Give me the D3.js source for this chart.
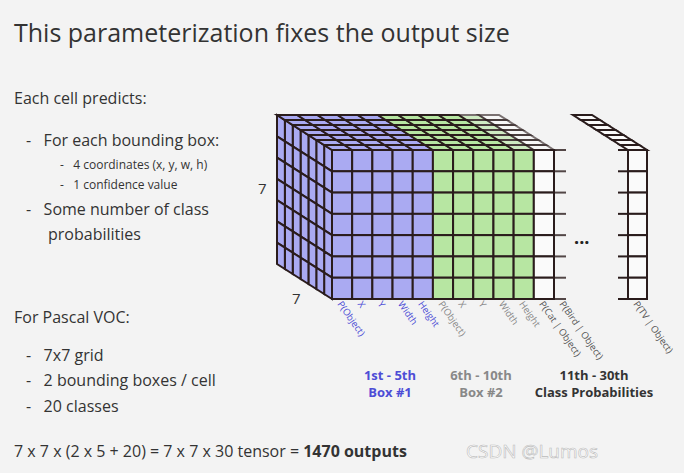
<!DOCTYPE html>
<meta charset="utf-8">
<html>
<head>
<script src="https://d3js.org/d3.v7.min.js"></script>
<style>
  body { margin: 0; background: #f3f3f3; }
  text { font-family: "Open Sans", sans-serif; white-space: pre; }
</style>
</head>
<body>
<svg id="slide" width="684" height="473"></svg>
<script>
// data
const colLabels = ["P(Object)", "X", "Y", "Width", "Height", "P(Object)", "X", "Y", "Width", "Height", "P(Cat | Object)", "P(Bird | Object)"];
const colGroups = [0, 0, 0, 0, 0, 1, 1, 1, 1, 1, 2, 2];
const lastLabel = "P(TV | Object)";
const groupTop = ["1st - 5th", "6th - 10th", "11th - 30th"];
const groupBottom = ["Box #1", "Box #2", "Class Probabilities"];
const fills = ["#aaaaf2", "#b7e6a2", "#fafafa"];
const labelColors = ["#4d4dd6", "#888888", "#333333"];
const bullets = [
  {t: "Each cell predicts:", lvl: 0, y: 104},
  {t: "-   For each bounding box:", lvl: 1, y: 146},
  {t: "-   4 coordinates (x, y, w, h)", lvl: 2, y: 169},
  {t: "-   1 confidence value", lvl: 2, y: 189},
  {t: "-   Some number of class", lvl: 1, y: 215},
  {t: "probabilities", lvl: 3, y: 240},
  {t: "For Pascal VOC:", lvl: 0, y: 323},
  {t: "-   7x7 grid", lvl: 1, y: 361},
  {t: "-   2 bounding boxes / cell", lvl: 1, y: 386},
  {t: "-   20 classes", lvl: 1, y: 412}
];

const svg = d3.select("#slide");
const N = 7;
const x = d3.scaleLinear().domain([0, 11]).range([332, 554]);
const y = d3.scaleLinear().domain([0, N]).range([150, 299]);
const dX = d3.scaleLinear().domain([0, N]).range([0, -55]);
const dY = d3.scaleLinear().domain([0, N]).range([0, -35]);
const P = (cx, r, d) => [cx + dX(d), y(r) + dY(d)];
const poly = pts => "M" + pts.map(p => p.join(",")).join("L") + "Z";
const stroke = "#2a1c1c";

// title + text
svg.append("text").attr("x", 14).attr("y", 42).attr("font-size", 25).attr("fill", "#333")
  .text("This parameterization fixes the output size");
const indent = [14, 26, 60, 48];
svg.selectAll("text.b").data(bullets).enter().append("text").attr("class", "b")
  .attr("x", d => indent[d.lvl]).attr("y", d => d.y)
  .attr("font-size", d => d.lvl === 2 ? 12 : 16).attr("fill", "#333").text(d => d.t);
svg.append("text").attr("x", 14).attr("y", 457).attr("font-size", 16).attr("fill", "#333")
  .html('7 x 7 x (2 x 5 + 20) = 7 x 7 x 30 tensor = <tspan font-weight="bold">1470 outputs</tspan>');

const g = svg.append("g").attr("stroke", stroke).attr("stroke-width", 2);

// left face
for (let d = 0; d < N; d++) for (let r = 0; r < N; r++) {
  g.append("path").attr("fill", fills[0])
    .attr("d", poly([P(x(0), r, d), P(x(0), r, d + 1), P(x(0), r + 1, d + 1), P(x(0), r + 1, d)]));
}
// top face
const nFront = 11;
for (let c = 0; c < nFront; c++) for (let d = 0; d < N; d++) {
  g.append("path").attr("fill", fills[colGroups[c]]).attr("opacity", c > 8 ? 0.6 : 1)
    .attr("d", poly([P(x(c), 0, d), P(x(c + 1), 0, d), P(x(c + 1), 0, d + 1), P(x(c), 0, d + 1)]));
}
// front face
for (let c = 0; c < nFront; c++) for (let r = 0; r < N; r++) {
  g.append("rect").attr("x", x(c)).attr("y", y(r)).attr("width", x(c + 1) - x(c)).attr("height", y(r + 1) - y(r))
    .attr("fill", fills[colGroups[c]]);
}
// stubs after front section
for (let r = 0; r <= N; r++) {
  g.append("line").attr("x1", x(11)).attr("x2", x(11) + 12).attr("y1", y(r)).attr("y2", y(r)).attr("opacity", 0.8);
}
// right block (last class)
const rx0 = 628, rx1 = 647;
for (let d = 0; d < N; d++) {
  g.append("path").attr("fill", "#fafafa")
    .attr("d", poly([P(rx0, 0, d), P(rx1, 0, d), P(rx1, 0, d + 1), P(rx0, 0, d + 1)]));
}
for (let r = 0; r < N; r++) {
  g.append("rect").attr("x", rx0).attr("y", y(r)).attr("width", rx1 - rx0).attr("height", y(r + 1) - y(r)).attr("fill", "#fafafa");
}
for (let r = 0; r <= N; r++) {
  g.append("line").attr("x1", rx0 - 10).attr("x2", rx0).attr("y1", y(r)).attr("y2", y(r));
}
svg.append("text").attr("x", 574).attr("y", 249).attr("font-size", 18).attr("font-weight", "bold").attr("fill", "#222").text("···");

// dimension labels
svg.append("text").attr("x", 258).attr("y", 194).attr("font-size", 15).attr("fill", "#333").text("7");
svg.append("text").attr("x", 292).attr("y", 304).attr("font-size", 15).attr("fill", "#333").text("7");

// column labels
const labs = colLabels.map((t, i) => ({t, g: colGroups[i], x: x(i) + 5}))
  .concat([{t: lastLabel, g: 2, x: rx0 + 5}]);
svg.selectAll("text.cl").data(labs).enter().append("text").attr("class", "cl")
  .attr("transform", d => `translate(${d.x},${304}) rotate(55)`)
  .attr("font-size", 9.5).attr("fill", d => d.g === 2 ? "#555" : labelColors[d.g]).text(d => d.t);

// group labels
const gx = [390, 481, 594];
svg.selectAll("text.gt").data(groupTop).enter().append("text").attr("class", "gt")
  .attr("x", (d, i) => gx[i]).attr("y", 380).attr("text-anchor", "middle").attr("font-size", 13)
  .attr("font-weight", "bold").attr("fill", (d, i) => labelColors[i]).text(d => d);
svg.selectAll("text.gb").data(groupBottom).enter().append("text").attr("class", "gb")
  .attr("x", (d, i) => gx[i]).attr("y", 397).attr("text-anchor", "middle").attr("font-size", 13)
  .attr("font-weight", "bold").attr("fill", (d, i) => labelColors[i]).text(d => d);

// watermark
svg.append("text").attr("x", 466).attr("y", 458).attr("font-size", 19).attr("fill", "#fff")
  .attr("stroke", "#bbb").attr("stroke-width", 0.6).text("CSDN @Lumos");
</script>
</body>
</html>
